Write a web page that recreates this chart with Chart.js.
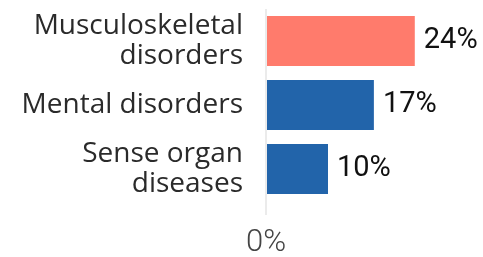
<!DOCTYPE html>
<html>
<head>
<meta charset="utf-8">
<script src="https://cdn.jsdelivr.net/npm/chart.js@4"></script>
<style>
  html, body { margin: 0; padding: 0; background: #fff; }
  #wrap { width: 483px; height: 257px; }
</style>
</head>
<body>
<div id="wrap"><canvas id="chart"></canvas></div>
<script>
// --- Data --- //
const categories = [
    ['Musculoskeletal', 'disorders'],
    'Mental disorders',
    ['Sense organ', 'diseases']
];
const shares = [24, 17.4, 10]; // percent
const barColors = ['#ff7b6c', '#2264aa', '#2264aa'];
const xTicks = [0];

// draws "24%" etc just past the end of each bar
const valueLabels = {
    id: 'valueLabels',
    afterDatasetsDraw(chart) {
        const ctx = chart.ctx;
        const meta = chart.getDatasetMeta(0);
        ctx.save();
        ctx.font = '29px Roboto';
        ctx.fillStyle = '#111';
        ctx.textAlign = 'left';
        ctx.textBaseline = 'middle';
        meta.data.forEach((bar, i) => {
            ctx.fillText(Math.round(shares[i]) + '%', bar.x + 9, bar.y);
        });
        ctx.restore();
    }
};

const ctx = document.getElementById('chart').getContext('2d');
new Chart(ctx, {
    type: 'bar',
    data: {
        labels: categories,
        datasets: [{
            data: shares,
            backgroundColor: barColors,
            categoryPercentage: 1,
            barPercentage: 0.78
        }]
    },
    options: {
        indexAxis: 'y',
        responsive: true,
        maintainAspectRatio: false,
        animation: false,
        layout: { padding: { top: 9, right: 0, left: 0, bottom: 0 } },
        plugins: {
            legend: { display: false },
            tooltip: { enabled: false }
        },
        scales: {
            x: {
                min: 0,
                max: 35,
                afterBuildTicks: scale => {
                    scale.ticks = xTicks.map(v => ({ value: v }));
                },
                afterFit: scale => {
                    scale.height = 56;
                    scale.paddingLeft = 0;
                    scale.paddingRight = 0;
                },
                border: { display: false },
                grid: {
                    color: c => (c.tick && c.tick.value === 0) ? '#ebebeb' : 'transparent',
                    lineWidth: 2,
                    tickLength: 14
                },
                ticks: {
                    callback: v => v + '%',
                    color: '#444',
                    padding: 10,
                    font: { family: 'Roboto', size: 31, weight: 300 }
                }
            },
            y: {
                afterFit: scale => {
                    scale.width = 266;
                    scale.paddingTop = 0;
                    scale.paddingBottom = 0;
                },
                border: { display: false },
                grid: { display: false, drawTicks: false },
                ticks: {
                    autoSkip: false,
                    color: '#2a2a2a',
                    padding: 23,
                    font: { family: 'Open Sans', size: 28, lineHeight: 1.07 }
                }
            }
        }
    },
    plugins: [valueLabels]
});
</script>
</body>
</html>
